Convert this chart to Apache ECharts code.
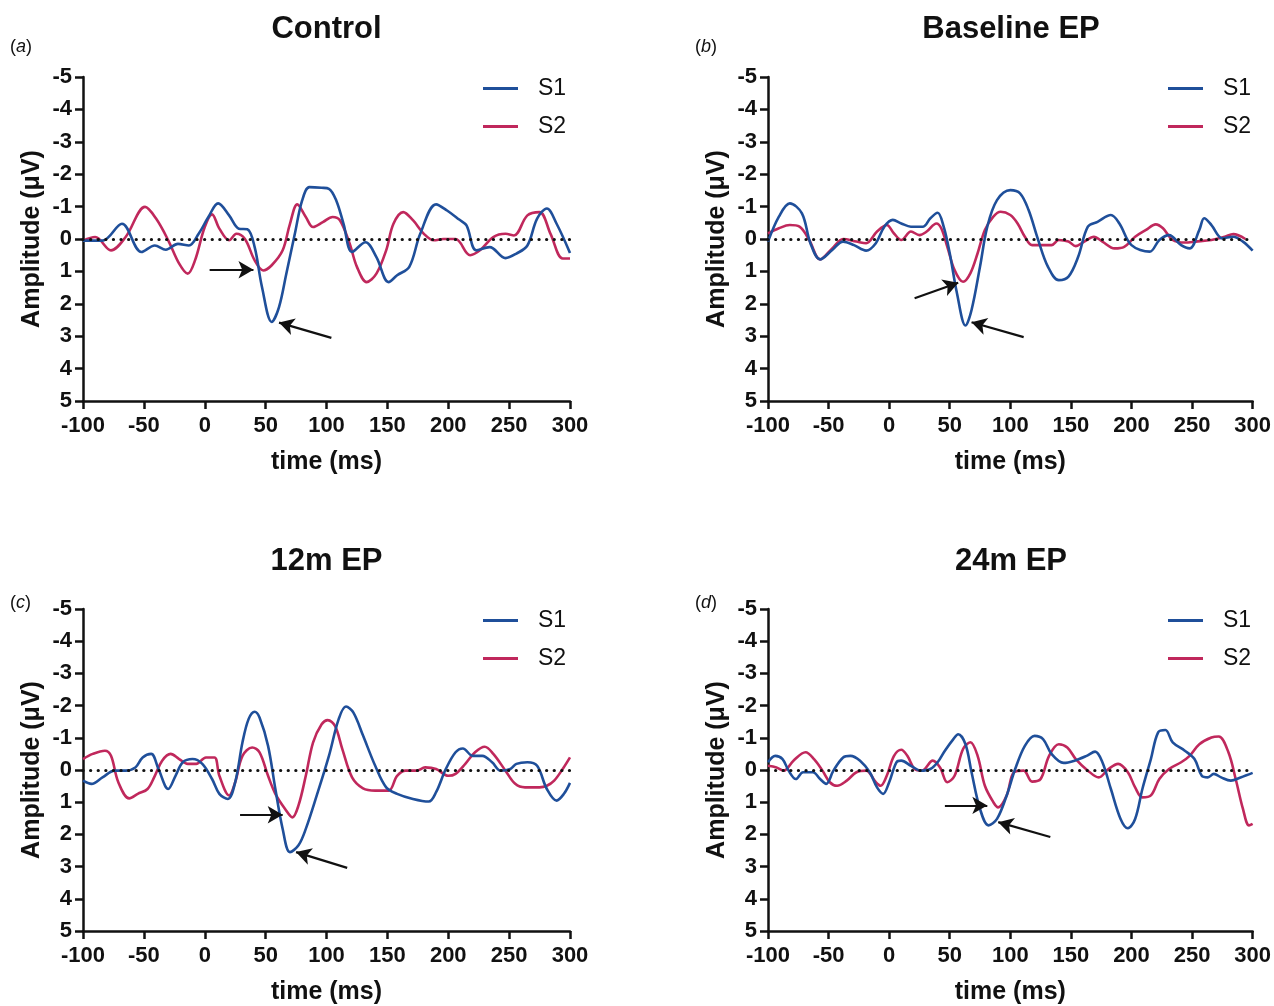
<!DOCTYPE html>
<html>
<head>
<meta charset="utf-8">
<title>EP waveforms</title>
<script src="https://cdn.jsdelivr.net/npm/echarts@6/dist/echarts.min.js"></script>
<style>
  html, body { margin: 0; padding: 0; background: #fff; }
  #chart { width: 1274px; height: 1006px; }
</style>
</head>
<body>
<div id="chart"></div>
<script>
// values, [time ms, amplitude uV]
var ctrlS1 = [[-100,0.05],[-84,0.05],[-68,-0.47],[-52,0.4],[-41,0.2],[-32,0.33],[-22,0.15],[-13,0.2],[-5,-0.16],[3,-0.68],[11,-1.1],[20,-0.73],[28,-0.32],[35,-0.3],[41,0.25],[47,1.48],[55,2.56],[61,2.1],[67,1.07],[74,-0.16],[80,-1.19],[86,-1.6],[96,-1.58],[102,-1.55],[108,-1.19],[114,-0.47],[121,0.4],[132,0.1],[141,0.56],[151,1.33],[158,1.12],[168,0.86],[177,-0.16],[190,-1.07],[199,-0.88],[209,-0.6],[215,-0.42],[223,0.35],[234,0.25],[247,0.59],[256,0.45],[265,0.2],[273,-0.63],[281,-0.94],[289,-0.47],[300,0.43]];
var ctrlS2 = [[-100,0.05],[-90,-0.06],[-77,0.35],[-65,-0.06],[-49,-0.99],[-40,-0.63],[-30,0.04],[-21,0.76],[-14,1.07],[-8,0.66],[0,-0.37],[6,-0.76],[12,-0.32],[20,0.04],[26,-0.16],[33,0],[41,0.66],[48,0.97],[55,0.81],[64,0.35],[70,-0.47],[76,-1.07],[83,-0.68],[89,-0.37],[97,-0.52],[105,-0.68],[111,-0.58],[119,0.14],[125,0.86],[133,1.33],[141,1.07],[149,0.35],[155,-0.47],[163,-0.83],[171,-0.58],[180,-0.16],[188,0.04],[196,0],[206,0],[218,0.5],[226,0.35],[237,-0.06],[247,-0.16],[254,-0.11],[265,-0.73],[275,-0.83],[284,-0.16],[294,0.6],[300,0.6]];

var baseS1 = [[-100,0.08],[-91,-0.69],[-82,-1.1],[-72,-0.79],[-65,0.13],[-57,0.63],[-47,0.34],[-38,0.08],[-29,0.19],[-19,0.36],[-11,0.13],[-4,-0.38],[3,-0.59],[10,-0.48],[18,-0.38],[28,-0.38],[34,-0.64],[40,-0.81],[45,-0.38],[50,0.44],[56,1.68],[63,2.67],[68,2.19],[75,0.85],[81,-0.38],[89,-1.2],[100,-1.51],[108,-1.41],[115,-0.9],[123,0.03],[131,0.85],[140,1.27],[148,1.16],[156,0.55],[164,-0.38],[172,-0.53],[183,-0.74],[190,-0.48],[200,0.19],[215,0.39],[223,0.03],[231,-0.12],[241,0.19],[248,0.29],[256,-0.28],[260,-0.64],[266,-0.43],[275,-0.02],[284,-0.07],[292,0.08],[300,0.36]];
var baseS2 = [[-100,-0.17],[-91,-0.33],[-82,-0.43],[-74,-0.38],[-66,0.03],[-57,0.63],[-47,0.29],[-38,0],[-27,0.08],[-19,0.13],[-10,-0.23],[-2,-0.43],[4,-0.17],[10,0.03],[18,-0.23],[25,-0.12],[31,-0.23],[39,-0.48],[43,-0.33],[48,0.24],[54,0.96],[61,1.32],[67,1.06],[73,0.44],[79,-0.28],[86,-0.69],[92,-0.84],[100,-0.74],[106,-0.48],[112,-0.07],[118,0.19],[128,0.19],[134,0.19],[140,0.03],[148,0.08],[154,0.22],[161,0.08],[169,-0.07],[176,0.08],[186,0.29],[194,0.24],[203,-0.07],[212,-0.28],[220,-0.45],[226,-0.33],[234,0.03],[244,0.11],[253,0.08],[266,0.03],[277,-0.07],[284,-0.15],[294,0]];

var m12S1 = [[-100,0.33],[-93,0.43],[-84,0.23],[-74,0.02],[-65,0.02],[-57,-0.08],[-51,-0.39],[-44,-0.5],[-38,-0.03],[-30,0.59],[-24,0.18],[-18,-0.24],[-10,-0.34],[-2,-0.19],[6,0.28],[12,0.74],[19,0.9],[25,0.38],[31,-0.86],[36,-1.58],[41,-1.81],[45,-1.63],[52,-0.75],[58,0.59],[64,1.83],[70,2.55],[77,2.34],[83,1.83],[92,0.79],[102,-0.44],[110,-1.58],[116,-1.97],[122,-1.79],[130,-1.07],[140,-0.13],[149,0.54],[158,0.74],[171,0.9],[184,0.98],[190,0.69],[198,-0.03],[206,-0.55],[212,-0.67],[220,-0.44],[228,-0.44],[236,-0.24],[243,0.02],[251,-0.03],[256,-0.19],[265,-0.24],[273,-0.13],[281,0.59],[289,0.95],[295,0.74],[300,0.4]];
var m12S2 = [[-100,-0.34],[-92,-0.5],[-82,-0.6],[-77,-0.44],[-71,0.38],[-62,0.88],[-55,0.74],[-47,0.59],[-41,0.18],[-35,-0.29],[-28,-0.5],[-21,-0.34],[-14,-0.19],[-7,-0.19],[1,-0.39],[8,-0.39],[12,0.18],[20,0.79],[25,0.38],[31,-0.44],[39,-0.7],[45,-0.55],[52,0.18],[58,0.74],[66,1.21],[72,1.47],[77,1.1],[83,0.18],[89,-0.86],[96,-1.42],[101,-1.55],[107,-1.37],[113,-0.65],[121,0.23],[130,0.57],[140,0.64],[151,0.64],[158,0.18],[165,0.02],[174,0.02],[181,-0.08],[190,-0.03],[200,0.18],[206,0.12],[214,-0.19],[222,-0.55],[230,-0.72],[237,-0.5],[247,0.02],[255,0.43],[263,0.54],[275,0.54],[281,0.49],[287,0.33],[294,-0.03],[300,-0.39]];

var m24S1 = [[-100,-0.24],[-94,-0.44],[-88,-0.34],[-83,0.02],[-77,0.28],[-71,0.07],[-63,0.07],[-57,0.28],[-52,0.43],[-46,0.02],[-38,-0.39],[-32,-0.44],[-24,-0.29],[-16,0.07],[-10,0.54],[-5,0.74],[0,0.38],[6,-0.24],[10,-0.29],[18,-0.13],[26,0.02],[34,-0.03],[40,-0.24],[46,-0.6],[53,-0.96],[57,-1.11],[63,-0.8],[68,0.07],[75,1.21],[82,1.72],[89,1.52],[97,0.79],[104,-0.03],[112,-0.75],[120,-1.06],[127,-0.96],[134,-0.5],[144,-0.22],[153,-0.29],[163,-0.44],[170,-0.57],[176,-0.24],[183,0.59],[191,1.52],[197,1.81],[203,1.52],[209,0.59],[216,-0.34],[222,-1.17],[228,-1.24],[234,-0.86],[244,-0.6],[252,-0.34],[258,0.18],[263,0.23],[268,0.12],[274,0.23],[282,0.33],[290,0.23],[300,0.09]];
var m24S2 = [[-100,-0.13],[-93,-0.08],[-87,0.02],[-79,-0.29],[-69,-0.55],[-62,-0.34],[-55,0.02],[-49,0.38],[-43,0.49],[-35,0.33],[-27,0.07],[-19,0.02],[-11,0.38],[-7,0.49],[-2,0.18],[4,-0.44],[10,-0.63],[15,-0.44],[21,-0.03],[27,0.02],[36,-0.29],[42,-0.08],[48,0.38],[54,0.18],[61,-0.65],[67,-0.86],[73,-0.44],[79,0.49],[86,1.0],[90,1.16],[97,0.79],[103,0.07],[111,0.02],[118,0.36],[125,0.28],[132,-0.44],[140,-0.8],[147,-0.7],[154,-0.34],[164,0.02],[173,0.23],[181,-0.03],[189,-0.19],[197,0.07],[203,0.54],[209,0.85],[216,0.79],[223,0.28],[231,-0.03],[241,-0.24],[248,-0.44],[256,-0.8],[266,-1.01],[272,-1.04],[280,-0.55],[286,0.28],[292,1.21],[297,1.72],[300,1.67]];

// arrows: [fromTime, fromAmp, toTime, toAmp]
var ctrlArrows = [[4, 0.95, 40, 0.95], [104, 3.05, 61, 2.58]];
var baseArrows = [[21, 1.83, 57, 1.35], [111, 3.03, 68, 2.57]];
var m12Arrows = [[29, 1.39, 64, 1.39], [117, 3.04, 75, 2.55]];
var m24Arrows = [[46, 1.1, 81, 1.1], [133, 2.08, 90, 1.62]];

var titles = ['Control', 'Baseline EP', '12m EP', '24m EP'];
var letters = ['a', 'b', 'c', 'd'];
var seriesNames = ['S1', 'S2'];

var BLUE = '#1f4f9a';
var RED = '#c0285c';
var FONT = '"Liberation Sans", Arial, Helvetica, sans-serif';

var panels = [
  { left: 83, top: 77, width: 487, height: 324, s1: ctrlS1, s2: ctrlS2, arrows: ctrlArrows, letterTop: 38 },
  { left: 768, top: 77, width: 486, height: 324, s1: baseS1, s2: baseS2, arrows: baseArrows, letterTop: 38 },
  { left: 83, top: 609, width: 487, height: 323, s1: m12S1, s2: m12S2, arrows: m12Arrows, letterTop: 594 },
  { left: 768, top: 609, width: 486, height: 323, s1: m24S1, s2: m24S2, arrows: m24Arrows, letterTop: 594 }
];

var option = {
  animation: false,
  backgroundColor: '#fff',
  textStyle: { fontFamily: FONT },
  title: [],
  legend: [],
  grid: [],
  xAxis: [],
  yAxis: [],
  series: []
};

panels.forEach(function (p, i) {
  option.grid.push({ left: p.left, top: p.top, width: p.width, height: p.height, containLabel: false });

  option.title.push({
    text: titles[i],
    left: p.left + p.width / 2,
    top: p.top - 63,
    textAlign: 'center',
    padding: 0,
    textStyle: { fontSize: 31, fontWeight: 'bold', color: '#111', fontFamily: FONT }
  });
  option.title.push({
    text: '{n|(}{i|' + letters[i] + '}{n|)}',
    left: p.left - 73,
    top: p.letterTop,
    padding: 0,
    textStyle: {
      rich: {
        n: { fontSize: 18, fontWeight: 'normal', color: '#111', fontFamily: FONT },
        i: { fontSize: 18, fontWeight: 'normal', color: '#111', fontStyle: 'italic', fontFamily: FONT }
      }
    }
  });

  option.legend.push({
    data: seriesNames.map(function (n) { return { name: n + '_' + i }; }),
    formatter: function (name) { return name.split('_')[0]; },
    orient: 'vertical',
    left: p.left + 400,
    top: p.top,
    padding: 0,
    itemGap: 15,
    itemWidth: 35,
    itemHeight: 3,
    icon: 'rect',
    selectedMode: false,
    textStyle: { fontSize: 23, color: '#111', lineHeight: 23, padding: [0, 0, 0, 15], fontFamily: FONT }
  });

  option.xAxis.push({
    gridIndex: i,
    type: 'value',
    min: -100,
    max: 300,
    interval: 50,
    name: 'time (ms)',
    nameLocation: 'middle',
    nameGap: 49,
    nameTextStyle: { fontSize: 25, fontWeight: 'bold', color: '#111', fontFamily: FONT },
    axisLine: { show: true, onZero: false, lineStyle: { color: '#111', width: 2.5 } },
    axisTick: { show: true, length: 8, lineStyle: { color: '#111', width: 2.5 } },
    axisLabel: { fontSize: 22, fontWeight: 'bold', color: '#111', margin: 14, fontFamily: FONT },
    splitLine: { show: false }
  });

  option.yAxis.push({
    gridIndex: i,
    type: 'value',
    min: -5,
    max: 5,
    interval: 1,
    inverse: true,
    name: 'Amplitude (μV)',
    nameLocation: 'middle',
    nameGap: 38,
    nameTextStyle: { fontSize: 25, fontWeight: 'bold', color: '#111', fontFamily: FONT },
    axisLine: { show: true, onZero: false, lineStyle: { color: '#111', width: 2.5 } },
    axisTick: { show: true, length: 8, lineStyle: { color: '#111', width: 2.5 } },
    axisLabel: { fontSize: 22, fontWeight: 'bold', color: '#111', margin: 11, fontFamily: FONT },
    splitLine: { show: false }
  });

  option.series.push({
    name: 'S1_' + i,
    type: 'line',
    xAxisIndex: i,
    yAxisIndex: i,
    data: p.s1,
    smooth: 0.35,
    showSymbol: false,
    color: BLUE,
    lineStyle: { color: BLUE, width: 2.6 },
    emphasis: { disabled: true },
    z: 3,
    markLine: {
      silent: true,
      symbol: ['none', 'none'],
      label: { show: false },
      emphasis: { disabled: true },
      lineStyle: { color: '#111', type: [0.1, 7.5], cap: 'round', width: 3.2 },
      data: [{ yAxis: 0 }]
    }
  });

  option.series.push({
    name: 'S2_' + i,
    type: 'line',
    xAxisIndex: i,
    yAxisIndex: i,
    data: p.s2,
    smooth: 0.35,
    showSymbol: false,
    color: RED,
    lineStyle: { color: RED, width: 2.6 },
    emphasis: { disabled: true },
    z: 2,
    markLine: {
      silent: true,
      symbol: ['none', 'arrow'],
      symbolSize: [13, 15],
      label: { show: false },
      emphasis: { disabled: true },
      lineStyle: { color: '#111', type: 'solid', width: 2.2 },
      z: 5,
      data: p.arrows.map(function (a) {
        return [{ coord: [a[0], a[1]] }, { coord: [a[2], a[3]] }];
      })
    }
  });
});

var chart = echarts.init(document.getElementById('chart'), null, { renderer: 'canvas' });
chart.setOption(option);
</script>
</body>
</html>
